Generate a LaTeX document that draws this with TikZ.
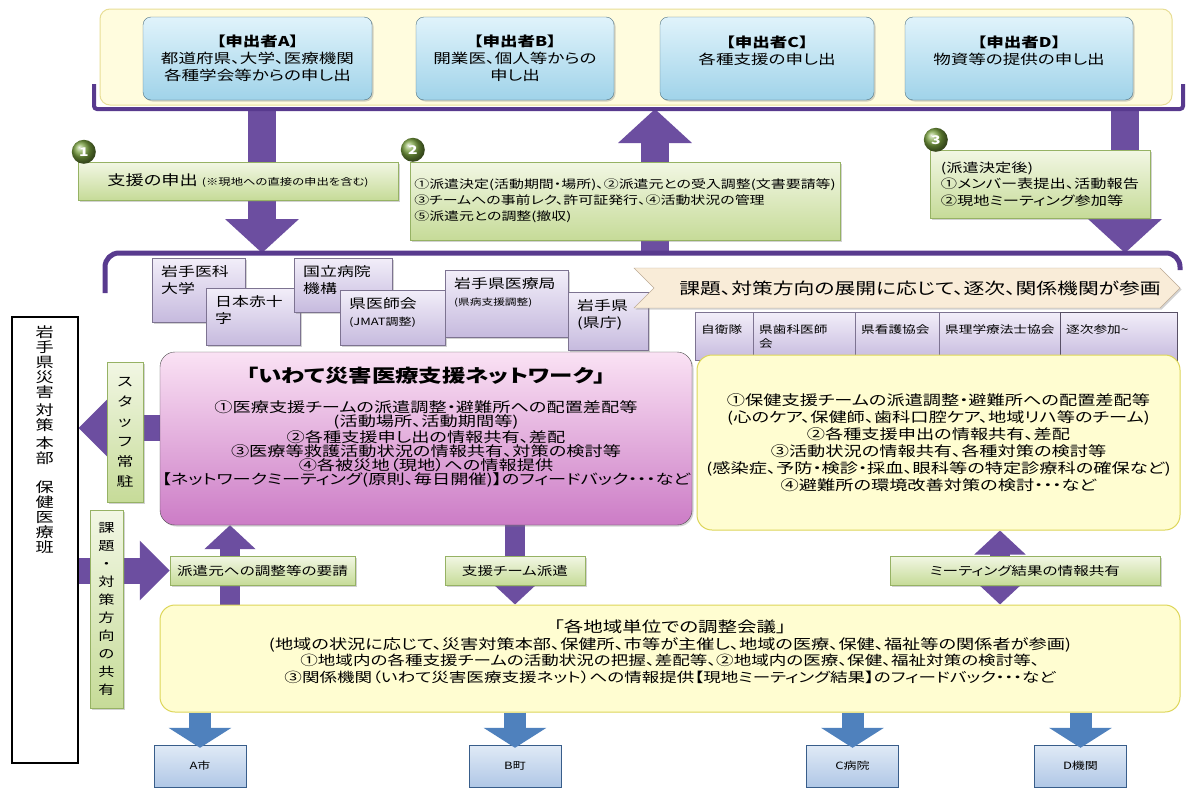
\documentclass[tikz,border=0pt]{standalone}
\usepackage{fontspec}
\setmainfont{Noto Sans CJK JP}[FakeStretch=1.3,RawFeature=+palt]
\usetikzlibrary{arrows.meta,shadows,backgrounds}
\definecolor{violet1}{RGB}{108,78,160}
\definecolor{violetdk}{RGB}{88,58,142}
\definecolor{creamfill}{RGB}{255,252,222}
\definecolor{creamline}{RGB}{232,222,150}
\definecolor{reqtop}{RGB}{224,243,251}
\definecolor{reqbot}{RGB}{160,211,233}
\definecolor{reqline}{RGB}{80,115,130}
\definecolor{grtop}{RGB}{242,247,228}
\definecolor{grbot}{RGB}{198,219,152}
\definecolor{grline}{RGB}{150,178,100}
\definecolor{lvtop}{RGB}{242,238,249}
\definecolor{lvbot}{RGB}{198,186,222}
\definecolor{lvline}{RGB}{125,115,145}
\definecolor{pktop}{RGB}{250,226,244}
\definecolor{pkbot}{RGB}{204,124,198}
\definecolor{bnfill}{RGB}{249,236,216}
\definecolor{bnline}{RGB}{190,172,150}
\definecolor{bluearr}{RGB}{79,129,189}
\definecolor{bluetop}{RGB}{224,234,246}
\definecolor{bluebot}{RGB}{176,199,230}
\definecolor{blueline}{RGB}{56,93,138}
\definecolor{stepgreen}{RGB}{120,160,62}
\newcommand\fsz[2]{\fontsize{#1}{#2}\selectfont}

\begin{document}
\begin{tikzpicture}[x=1pt, y=-1pt,
    dropsh/.style={drop shadow={opacity=.35, shadow xshift=1.5pt, shadow yshift=-1.5pt}},
    panel/.style={draw=creamline, fill=creamfill, line width=1, rounded corners=10},
    reqbox/.style={draw=reqline, top color=reqtop, bottom color=reqbot, rounded corners=8,
        dropsh, align=center, font=\fsz{13.5}{17}},
    stepbox/.style={draw=grline, top color=grtop, bottom color=grbot, dropsh, align=left},
    stepdot/.style={circle, ball color=stepgreen, text=white, font=\bfseries\fsz{12}{12},
        minimum size=24, inner sep=0},
    inst/.style={draw=lvline, top color=lvtop, bottom color=lvbot, dropsh, anchor=north west,
        label={[anchor=north west, align=left, inner sep=0, xshift=9pt, yshift=-7pt,
        font=\fsz{13}{17}]north west:#1}},
    tblcell/.style={draw=lvline, top color=lvtop, bottom color=lvbot, anchor=north west,
        minimum height=48, label={[anchor=north west, align=left, inner sep=0, xshift=6pt,
        yshift=-12pt, font=\fsz{10.5}{14}]north west:#1}},
    bracketline/.style={draw=violetdk, line width=4, rounded corners=3},
    bigarrow/.style={draw=violet1, line width=28, -{Triangle[width=72pt,length=34pt]}},
    sidearrow/.style={draw=violet1, line width=26, -{Triangle[width=58pt,length=30pt]}},
    midarrow/.style={draw=violet1, line width=20, -{Triangle[width=50pt,length=24pt]}},
    tag/.style={draw=grline, top color=grtop, bottom color=grbot, dropsh, minimum height=29,
        font=\fsz{12}{14}},
    vtag/.style={draw=grline, top color=grtop, bottom color=grbot, dropsh, align=center, inner sep=0},
    bluearrow/.style={draw=bluearr, line width=22, -{Triangle[width=62pt,length=20pt]}},
    sitebox/.style={draw=blueline, top color=bluetop, bottom color=bluebot, minimum width=92,
        minimum height=42, font=\fsz{10}{12}}]
\begin{scope}[on background layer]
    \fill[white] (0,0) rectangle (1190,790);
\end{scope}
\useasboundingbox (0,0) rectangle (1190,790);

\node[panel, minimum width=1072, minimum height=96] (offers) at (636,57) {};
\draw[bracketline] (94,84) -- (94,109) -- (1183,109) -- (1183,84);
\node[reqbox, minimum width=229, minimum height=83] (reqA) at (257.5,58.5)
    {{\bfseries 【申出者A】}\\都道府県、大学、医療機関\\各種学会等からの申し出};
\node[reqbox, minimum width=198, minimum height=83] (reqB) at (515,58.5)
    {{\bfseries 【申出者B】}\\開業医、個人等からの\\申し出};
\node[reqbox, minimum width=214, minimum height=83] (reqC) at (767,58.5)
    {{\bfseries 【申出者C】}\\各種支援の申し出\\\mbox{}};
\node[reqbox, minimum width=228, minimum height=83] (reqD) at (1019,58.5)
    {{\bfseries 【申出者D】}\\物資等の提供の申し出\\\mbox{}};

\coordinate (b1a) at (262,109); \coordinate (b2a) at (262,253);
\coordinate (b1b) at (655,109); \coordinate (b2b) at (655,253);
\coordinate (b1c) at (1125,109); \coordinate (b2c) at (1125,253);

\node[stepbox, minimum width=320, minimum height=38] (step1) at (238,181)
    {\fsz{14}{16}支援の申出\ \fsz{9.5}{12}(※現地への直接の申出を含む)};
\node[stepbox, minimum width=430, minimum height=78, font=\fsz{11.5}{16}] (step2) at (625,201)
    {①派遣決定(活動期間・場所)、②派遣元との受入調整(文書要請等)\\
     ③チームへの事前レク、許可証発行、④活動状況の管理\\
     ⑤派遣元との調整(撤収)};
\node[stepbox, minimum width=220, minimum height=68, font=\fsz{12.5}{16.5}] (step3) at (1040,184)
    {(派遣決定後)\\①メンバー表提出、活動報告\\②現地ミーティング参加等};
\node[stepdot] (n1) at ([shift={(6,-10)}]step1.north west) {1};
\node[stepdot] (n2) at ([shift={(3,-12)}]step2.north west) {2};
\node[stepdot] (n3) at ([shift={(6,-10)}]step3.north west) {3};

\draw[bracketline, line width=5, rounded corners=14] (105,293) -- (105,253) -- (1180,253) -- (1180,270);

\node[inst={岩手医科\\大学}, minimum width=93, minimum height=64] (iwmu) at (152,258) {};
\node[inst={日本赤十\\字}, minimum width=94, minimum height=57] (jrc) at (206,288) {};
\node[inst={国立病院\\機構}, minimum width=98, minimum height=54] (nho) at (294,258) {};
\node[inst={県医師会\\{\fsz{10}{14}(JMAT調整)}}, minimum width=105, minimum height=55] (jma) at (340,290) {};
\node[inst={岩手県医療局\\{\fsz{9}{13}(県病支援調整)}}, minimum width=123, minimum height=67] (phb) at (445,270) {};
\node[inst={岩手県\\(県庁)}, minimum width=80, minimum height=58] (pref) at (568,292) {};

\draw[draw=bnline, fill=bnfill, dropsh] (634,268) -- (1160,268) -- (1180,288) -- (1160,308)
    -- (634,308) -- (654,288) -- cycle;
\node[font=\fsz{16}{18}] (banner) at (920,288) {課題、対策方向の展開に応じて、逐次、関係機関が参画};

\node[tblcell={自衛隊}, minimum width=58] (sdf) at (695,312) {};
\node[tblcell={県歯科医師\\会}, minimum width=102] (dent) at (753,312) {};
\node[tblcell={県看護協会}, minimum width=84] (nurse) at (855,312) {};
\node[tblcell={県理学療法士協会}, minimum width=121] (ptas) at (939,312) {};
\node[tblcell={逐次参加\textasciitilde}, minimum width=117, draw=lvline!70!black] (more) at (1060,312) {};

\node[draw=black, line width=1.6, minimum width=66, minimum height=446, anchor=north west] (hq) at (11,316) {};
\node[anchor=north, align=center, font=\fsz{14}{15}, yshift=-6pt] (hqtext) at (hq.north)
    {岩\\手\\県\\災\\害\\[3pt]対\\策\\[3pt]本\\部\\[14pt]保\\健\\医\\療\\班};

\node[draw=black!70, rounded corners=15, top color=pktop, bottom color=pkbot, dropsh,
    minimum width=532, minimum height=173,
    label={[anchor=north, align=center, yshift=-12pt, font=\fsz{14}{14}]north:{%
    {\bfseries\fsz{18}{20}「いわて災害医療支援ネットワーク」}\\[16pt]
    ①医療支援チームの派遣調整・避難所への配置差配等\\
    (活動場所、活動期間等)\\
    ②各種支援申し出の情報共有、差配\\
    ③医療等救護活動状況の情報共有、対策の検討等\\
    ④各被災地（現地）への情報提供\\
    【ネットワークミーティング(原則、毎日開催)】のフィードバック・・・など}}] (net) at (426,438.5) {};

\node[panel, rounded corners=15, fill=yellow!18, draw=yellow!50!olive!60, minimum width=483,
    minimum height=175, align=center, font=\fsz{14}{17}] (health) at (938.5,442.5)
    {①保健支援チームの派遣調整・避難所への配置差配等\\
     (心のケア、保健師、歯科口腔ケア、地域リハ等のチーム)\\
     ②各種支援申出の情報共有、差配\\
     ③活動状況の情報共有、各種対策の検討等\\
     (感染症、予防・検診・採血、眼科等の特定診療科の確保など)\\
     ④避難所の環境改善対策の検討・・・など};

\node[vtag, minimum width=36, minimum height=140, font=\fsz{13}{20}] (staff) at (125,432)
    {ス\\タ\\ッ\\フ\\常\\駐};
\node[vtag, minimum width=33, minimum height=198, font=\fsz{12.5}{18}] (share) at (106.5,609)
    {課\\題\\・\\対\\策\\方\\向\\の\\共\\有};

\node[tag, minimum width=185] (req) at (262.5,570.5) {派遣元への調整等の要請};
\node[tag, minimum width=140] (dispatch) at (515,570.5) {支援チーム派遣};
\node[tag, minimum width=270] (meet) at (1025,570.5) {ミーティング結果の情報共有};

\node[panel, rounded corners=15, fill=yellow!18, draw=yellow!50!olive!60, minimum width=1020,
    minimum height=107,
    label={[anchor=north, align=center, yshift=-12pt, font=\fsz{13.5}{16.5}]north:{%
    {\fsz{15}{17}「各地域単位での調整会議」}\\
    {\fsz{14}{16.5}(地域の状況に応じて、災害対策本部、保健所、市等が主催し、地域の医療、保健、福祉等の関係者が参画)}\\
    ①地域内の各種支援チームの活動状況の把握、差配等、②地域内の医療、保健、福祉対策の検討等、\\
    ③関係機関（いわて災害医療支援ネット）への情報提供【現地ミーティング結果】のフィードバック・・・など}}] (local) at (670,658.5) {};

\node[sitebox] (cityA) at (200,766) {A市};
\node[sitebox] (townB) at (515,766) {B町};
\node[sitebox] (hospC) at (852.5,766) {C病院};
\node[sitebox] (orgD) at (1080.5,766) {D機関};

\coordinate (st) at (160,428);
\coordinate (u1) at (230,605);
\coordinate (m1) at (1000,605);
\begin{scope}[on background layer]
    \draw[bigarrow] (b1a) -- (b2a);
    \draw[bigarrow] (b2b) -- (b1b);
    \draw[bigarrow] (b1c) -- (b2c);
    \draw[sidearrow] (st) -- (st -| hq.east);
    \draw[sidearrow] (hq.east |- req.west) -- (req.west);
    \draw[midarrow] (u1) -- (u1 |- net.south);
    \draw[midarrow] (dispatch.north |- net.south) -- (dispatch.north |- local.north);
    \draw[midarrow, {Triangle[width=50pt,length=24pt]}-{Triangle[width=50pt,length=24pt]}]
        (m1 |- health.south) -- (m1 |- local.north);
\end{scope}
\draw[bluearrow] (cityA.north |- local.south) -- ([yshift=-3pt]cityA.north);
\draw[bluearrow] (townB.north |- local.south) -- ([yshift=-3pt]townB.north);
\draw[bluearrow] (hospC.north |- local.south) -- ([yshift=-3pt]hospC.north);
\draw[bluearrow] (orgD.north |- local.south) -- ([yshift=-3pt]orgD.north);
\end{tikzpicture}
\end{document}
